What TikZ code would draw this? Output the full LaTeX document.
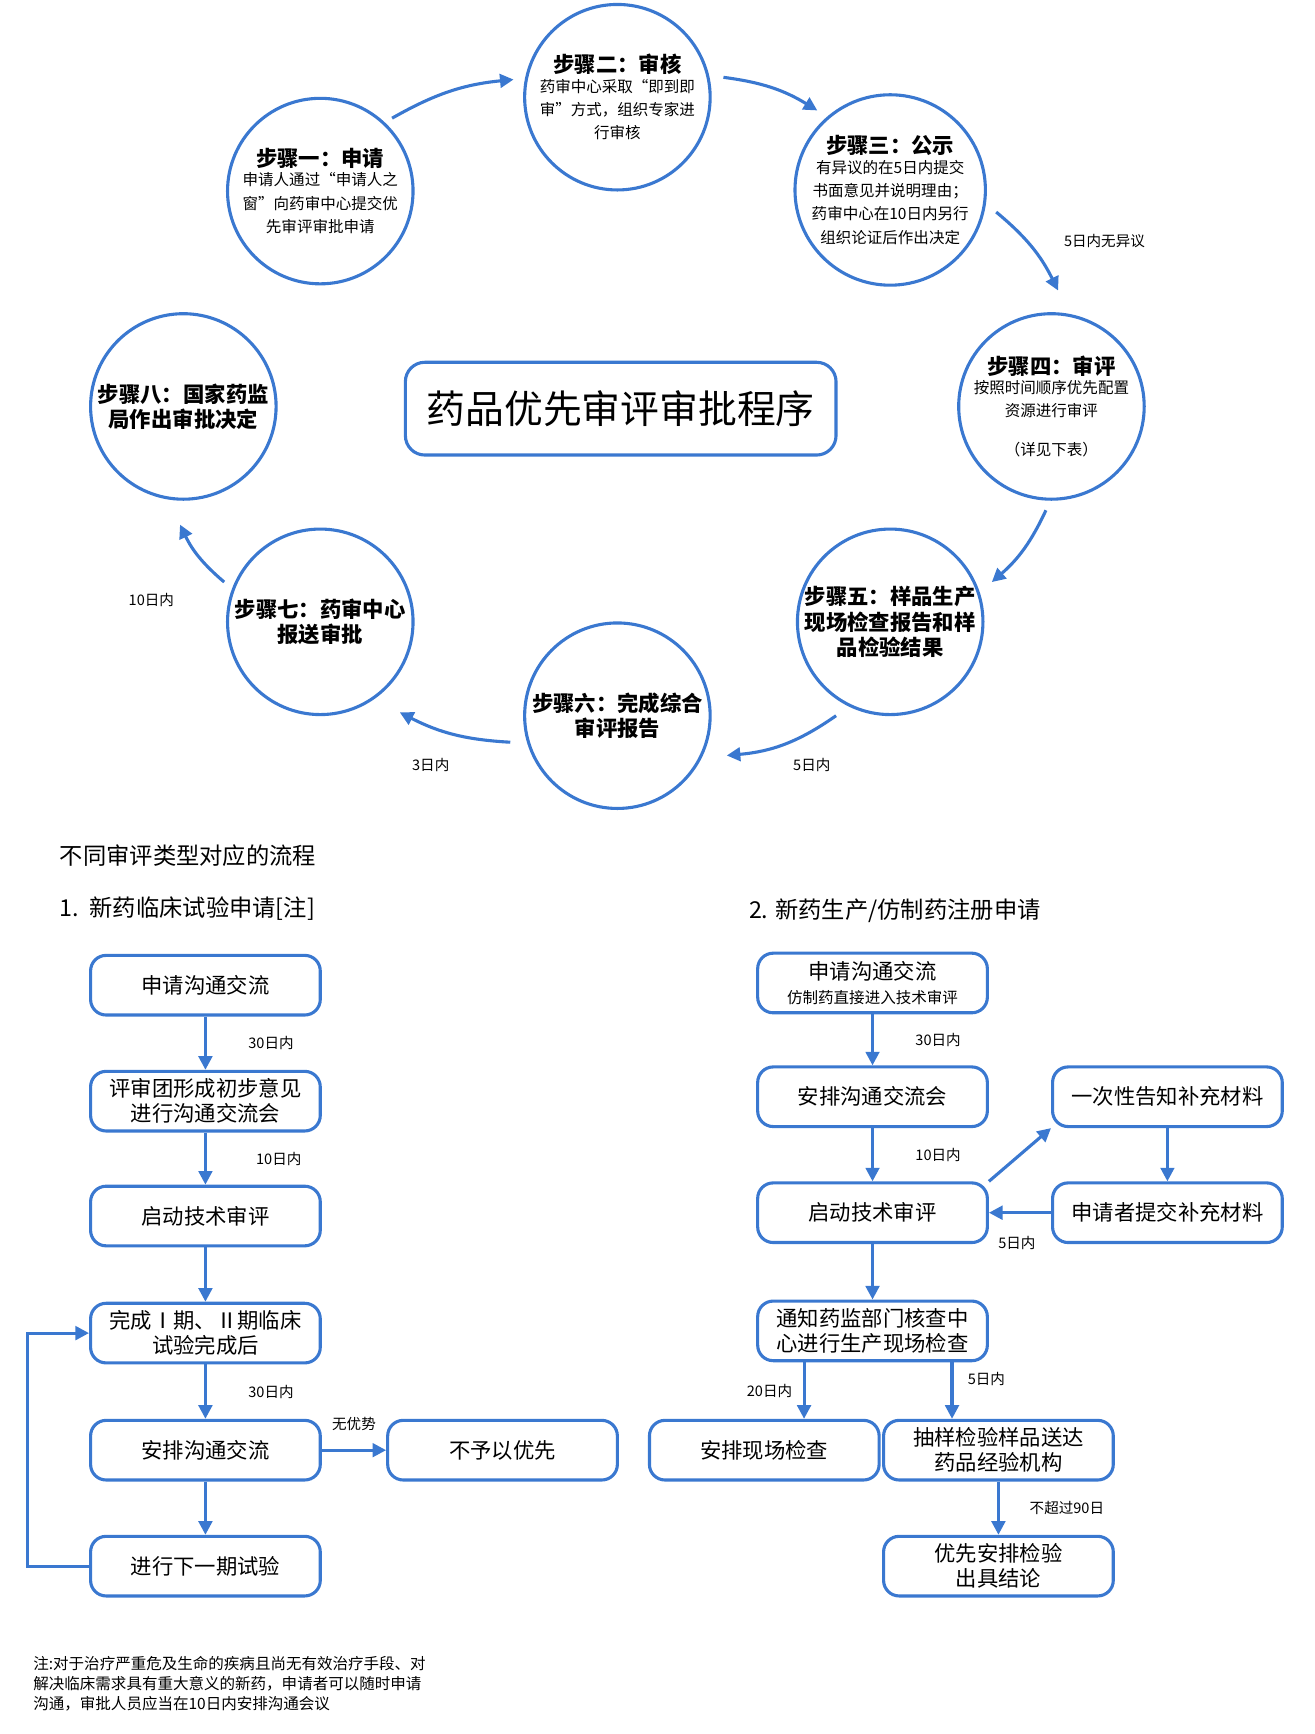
\documentclass[tikz,border=0pt]{standalone}
\usepackage{fontspec}
\setmainfont{Noto Sans CJK SC}
\usetikzlibrary{positioning,arrows.meta}
\definecolor{flowblue}{HTML}{3A78D0}
\tikzset{
  stepcircle/.style={circle, draw=flowblue, line width=1.6pt, minimum size=3.36cm, inner sep=0pt, align=center},
  flowbox/.style={rectangle, draw=flowblue, line width=1.6pt, rounded corners=8pt, minimum width=4.16cm, minimum height=1.08cm, align=center, font=\fontsize{11}{13}\selectfont},
  flowarrow/.style={draw=flowblue, line width=1.6pt, -{Triangle[length=7pt,width=7pt]}},
  lbl/.style={font=\fontsize{7.5}{9}\selectfont},
  steptitle/.style={font=\fontsize{11}{13}\selectfont\bfseries},
}
\newcommand{\smalltext}{\fontsize{8}{10}\selectfont}
\begin{document}
\begin{tikzpicture}[x=0.02cm, y=-0.02cm]
  \useasboundingbox (0,0) rectangle (1190,1570);
  % circle of steps
  \node[stepcircle] (s1) at (290,173) {{\bfseries\fontsize{11}{13}\selectfont 步骤一：申请}\\[-2pt]\smalltext 申请人通过“申请人之\\\smalltext 窗”向药审中心提交优\\\smalltext 先审评审批申请};
  \node[stepcircle] (s2) at (559,88) {{\bfseries\fontsize{11}{13}\selectfont 步骤二：审核}\\[-2pt]\smalltext 药审中心采取“即到即\\\smalltext 审”方式，组织专家进\\\smalltext 行审核};
  \node[stepcircle] (s3) at (806,172) {{\bfseries\fontsize{11}{13}\selectfont 步骤三：公示}\\[-2pt]\smalltext 有异议的在5日内提交\\\smalltext 书面意见并说明理由；\\\smalltext 药审中心在10日内另行\\\smalltext 组织论证后作出决定};
  \node[stepcircle] (s4) at (952,368) {{\bfseries\fontsize{11}{13}\selectfont 步骤四：审评}\\[-2pt]\smalltext 按照时间顺序优先配置\\\smalltext 资源进行审评\\[8pt]\smalltext （详见下表）};
  \node[stepcircle, steptitle] (s5) at (806,563) {步骤五：样品生产\\现场检查报告和样\\品检验结果};
  \node[stepcircle, steptitle] (s6) at (559,648) {步骤六：完成综合\\审评报告};
  \node[stepcircle, steptitle] (s7) at (290,563) {步骤七：药审中心\\报送审批};
  \node[stepcircle, steptitle] (s8) at (166,368) {步骤八：国家药监\\局作出审批决定};
  \node[rectangle, draw=flowblue, line width=1.6pt, rounded corners=10pt, minimum width=7.8cm, minimum height=1.68cm, font=\fontsize{20}{24}\selectfont] (title) at (562,370) {药品优先审评审批程序};

  % arcs between steps
  \coordinate (p1) at (355,107);
  \coordinate (p2) at (465,72);
  \coordinate (p3) at (655,70);
  \coordinate (p4) at (740,100);
  \coordinate (p5) at (902,192);
  \coordinate (p6) at (958,263);
  \coordinate (p7) at (947,462);
  \coordinate (p8) at (898,527);
  \coordinate (p9) at (757,648);
  \coordinate (p10) at (658,684);
  \coordinate (p11) at (462,672);
  \coordinate (p12) at (362,645);
  \coordinate (p13) at (203,527);
  \coordinate (p14) at (163,475);
  \draw[flowarrow] (p1) to[bend left=12] (p2);
  \draw[flowarrow] (p3) to[bend left=12] (p4);
  \draw[flowarrow] (p5) to[bend left=12] (p6);
  \node[lbl] (lbl1) at (1000,218) {5日内无异议};
  \draw[flowarrow] (p7) to[bend left=12] (p8);
  \draw[flowarrow] (p9) to[bend left=15] (p10);
  \node[lbl] (lbl2) at (735,693) {5日内};
  \draw[flowarrow] (p11) to[bend left=12] (p12);
  \node[lbl] (lbl3) at (390,693) {3日内};
  \draw[flowarrow] (p13) to[bend left=12] (p14);
  \node[lbl] (lbl4) at (137,543) {10日内};

  % headings
  \node[anchor=west, font=\fontsize{12}{14}\selectfont] (head) at (48,775) {不同审评类型对应的流程};
  \node[anchor=west, font=\fontsize{12}{14}\selectfont] (headA) at (48,823) {1.\ \ 新药临床试验申请[注]};
  \node[anchor=west, font=\fontsize{12}{14}\selectfont] (headB) at (672,825) {2. 新药生产/仿制药注册申请};

  % left flow
  \node[flowbox] (a1) at (186,892) {申请沟通交流};
  \node[flowbox] (a2) at (186,997) {评审团形成初步意见\\进行沟通交流会};
  \node[flowbox] (a3) at (186,1101) {启动技术审评};
  \node[flowbox] (a4) at (186,1207) {完成Ⅰ期、Ⅱ期临床\\试验完成后};
  \node[flowbox] (a5) at (186,1313) {安排沟通交流};
  \node[flowbox] (a6) at (186,1418) {进行下一期试验};
  \node[flowbox] (a7) at (455,1313) {不予以优先};
  \draw[flowarrow] (a1) -- node[lbl, right=18pt] {30日内} (a2);
  \draw[flowarrow] (a2) -- node[lbl, right=22pt] {10日内} (a3);
  \draw[flowarrow] (a3) -- (a4);
  \draw[flowarrow] (a4) -- node[lbl, right=18pt] {30日内} (a5);
  \draw[flowarrow] (a5) -- node[lbl, above=6pt] {无优势} (a7);
  \draw[flowarrow] (a5) -- (a6);
  \draw[flowarrow] (a6.west) -- (25,1418) -- (25,1207) -- (a4.west);

  % right flow
  \node[flowbox] (b1) at (790,890) {申请沟通交流\\[-1pt]{\smalltext 仿制药直接进入技术审评}};
  \node[flowbox] (b2) at (790,993) {安排沟通交流会};
  \node[flowbox] (b3) at (790,1098) {启动技术审评};
  \node[flowbox] (b4) at (790,1205) {通知药监部门核查中\\心进行生产现场检查};
  \node[flowbox] (b5) at (692,1313) {安排现场检查};
  \node[flowbox] (b6) at (904,1313) {抽样检验样品送达\\药品经验机构};
  \node[flowbox] (b7) at (904,1418) {优先安排检验\\出具结论};
  \node[flowbox] (b8) at (1057,993) {一次性告知补充材料};
  \node[flowbox] (b9) at (1057,1098) {申请者提交补充材料};
  \draw[flowarrow] (b1) -- node[lbl, right=18pt] {30日内} (b2);
  \draw[flowarrow] (b2) -- node[lbl, right=18pt] {10日内} (b3);
  \draw[flowarrow] (b3.north east) -- (b8.south west);
  \draw[flowarrow] (b8) -- (b9);
  \draw[flowarrow] (b9) -- node[lbl, below=8pt, pos=0.55] {5日内} (b3);
  \draw[flowarrow] (b3) -- (b4);
  \draw[flowarrow] ([xshift=-1.24cm]b4.south) -- node[lbl, left=2pt] {20日内} ([xshift=-1.24cm]b4.south |- b5.north);
  \draw[flowarrow] ([xshift=1.44cm]b4.south) -- node[lbl, right=4pt, pos=0.3] {5日内} ([xshift=1.44cm]b4.south |- b6.north);
  \draw[flowarrow] (b6) -- node[lbl, right=12pt] {不超过90日} (b7);

  % note
  \node[anchor=north west, align=left, font=\fontsize{8}{10.5}\selectfont] (note) at (24,1493) {注:对于治疗严重危及生命的疾病且尚无有效治疗手段、对\\解决临床需求具有重大意义的新药，申请者可以随时申请\\沟通，审批人员应当在10日内安排沟通会议};
\end{tikzpicture}
\end{document}
